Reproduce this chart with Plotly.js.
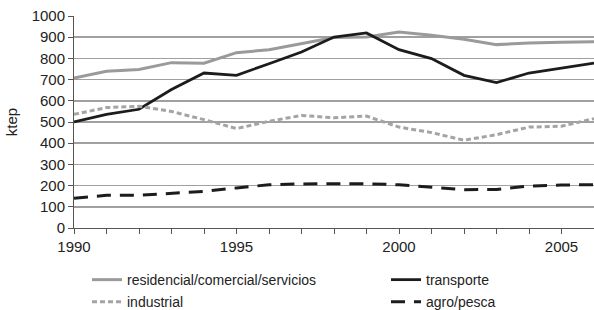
<!DOCTYPE html>
<html><head><meta charset="utf-8">
<script src="https://cdn.plot.ly/plotly-3.0.1.min.js"></script>
<style>html,body{margin:0;padding:0;background:#fff}#c{width:594px;height:310px}</style>
</head><body><div id="c"></div>
<script>
const years = [1990,1991,1992,1993,1994,1995,1996,1997,1998,1999,2000,2001,2002,2003,2004,2005,2006];
const residencial = [707,739,748,780,777,827,841,870,898,901,925,909,890,865,873,876,879];
const transporte = [500,536,560,653,731,720,775,830,901,920,841,799,720,686,731,755,778];
const industrial = [536,568,574,550,511,469,503,531,520,528,476,450,414,440,476,480,516];
const agro = [140,154,154,165,173,189,204,208,209,209,204,193,181,182,198,203,204];
const names = ['residencial/comercial/servicios','transporte','industrial','agro/pesca'];
const xTicks = [1990,1995,2000,2005];

const traces = [
  {x: years, y: residencial, name: names[0], legend:'legend', legendgroup:'a', mode:'lines', line:{color:'#9a9a9a', width:3}},
  {x: years, y: transporte, name: names[1], legend:'legend2', legendgroup:'c', mode:'lines', line:{color:'#1c1c1c', width:2.8}},
  {x: years, y: industrial, name: names[2], legend:'legend', legendgroup:'b', mode:'lines', line:{color:'#a4a4a4', width:3, dash:'5px,3px'}},
  {x: years, y: agro, name: names[3], legend:'legend2', legendgroup:'d', mode:'lines', line:{color:'#1c1c1c', width:3, dash:'14px,9px'}}
];
const legBase = {orientation:'v', yanchor:'top', xanchor:'left', y:-0.17, tracegroupgap:1,
                 bgcolor:'rgba(0,0,0,0)', font:{size:14, color:'#222'}};
const layout = {
  width:594, height:310,
  margin:{l:74, r:0, t:16, b:82, autoexpand:false},
  paper_bgcolor:'#fff', plot_bgcolor:'#fff',
  font:{family:'Liberation Sans, Arial, sans-serif', size:15, color:'#222'},
  showlegend:true,
  legend: Object.assign({}, legBase, {x:0.025}),
  legend2: Object.assign({}, legBase, {x:0.6}),
  xaxis:{range:[1990,2006], tickvals:xTicks, ticktext:xTicks.map(String),
         showgrid:false, zeroline:false, showline:true, linecolor:'#555', linewidth:1,
         ticks:'outside', ticklen:5, tickcolor:'#555', tickfont:{size:15},
         minor:{ticks:'outside', ticklen:5, tickcolor:'#555', dtick:1, showgrid:false}},
  yaxis:{range:[0,1000], dtick:100, showgrid:true, gridcolor:'#a0a0a0', gridwidth:1.5,
         zeroline:false, showline:true, linecolor:'#555', linewidth:1,
         ticks:'outside', ticklen:5, tickcolor:'#555', tickfont:{size:15},
         title:{text:'ktep', font:{size:15}, standoff:10}}
};
Plotly.newPlot('c', traces, layout, {displayModeBar:false, staticPlot:true});
</script></body></html>
